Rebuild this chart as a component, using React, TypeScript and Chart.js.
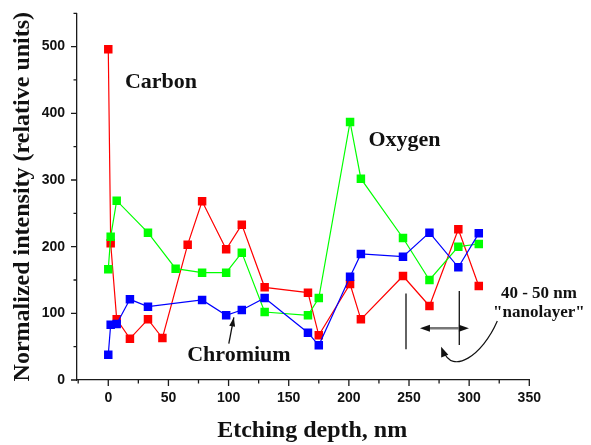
import React, { useEffect, useRef } from 'react';
import { Chart, registerables } from 'chart.js';

Chart.register(...registerables);

// ---- data ----
const chromiumDepth = [0, 2, 7, 18, 33, 78, 98, 111, 130, 166, 175, 201, 210, 245, 267, 291, 308];
const chromiumIntensity = [38, 83, 84, 121, 110, 120, 97, 105, 123, 71, 52, 155, 189, 185, 221, 169, 220];

const oxygenDepth = [0, 2, 7, 33, 56, 78, 98, 111, 130, 166, 175, 201, 210, 245, 267, 291, 308];
const oxygenIntensity = [166, 215, 269, 221, 167, 161, 161, 191, 102, 97, 123, 387, 302, 213, 150, 200, 204];

const carbonDepth = [0, 2, 7, 18, 33, 45, 66, 78, 98, 111, 130, 166, 175, 201, 210, 245, 267, 291, 308];
const carbonIntensity = [496, 205, 91, 62, 91, 63, 203, 268, 196, 233, 139, 131, 67, 144, 91, 156, 111, 226, 141];

const xMajorTicks = [0, 50, 100, 150, 200, 250, 300, 350];
const xMinorTicks = [-25, 25, 75, 125, 175, 225, 275, 325];
const yMajorTicks = [0, 100, 200, 300, 400, 500];
const yMinorTicks = [50, 150, 250, 350, 450, 550];

const xTitle = 'Etching depth, nm';
const yTitle = 'Normalized intensity (relative units)';

// annotation texts, anchored in data coordinates
const labelTexts = ['Carbon', 'Oxygen', 'Chromium', '40 - 50 nm', '"nanolayer"'];
const labelDepths = [43.8, 246.2, 108.6, 358, 358];
const labelIntensities = [437.5, 350.6, 28.5, 122.9, 94.4];
const labelSizes = [22, 22, 22, 17, 17];

const AXIS = '#1a1a1a';
const INK = '#111111';
const SERIF = '"Liberation Serif", "Times New Roman", serif';

function toPoints(xs: number[], ys: number[]) {
  return xs.map((x, i) => ({ x, y: ys[i] }));
}

function arrowHead(ctx: CanvasRenderingContext2D, tx: number, ty: number, fx: number, fy: number, len: number, hw: number) {
  const a = Math.atan2(ty - fy, tx - fx);
  const bx = tx - Math.cos(a) * len;
  const by = ty - Math.sin(a) * len;
  ctx.beginPath();
  ctx.moveTo(tx, ty);
  ctx.lineTo(bx + Math.sin(a) * hw, by - Math.cos(a) * hw);
  ctx.lineTo(bx - Math.sin(a) * hw, by + Math.cos(a) * hw);
  ctx.closePath();
  ctx.fill();
}

const decorPlugin = {
  id: 'decor',
  afterDraw(chart: any) {
    const { ctx, chartArea } = chart;
    const xs = chart.scales.x;
    const ys = chart.scales.y;
    const X = (v: number) => xs.getPixelForValue(v);
    const Y = (v: number) => ys.getPixelForValue(v);
    ctx.save();
    // tick marks
    ctx.strokeStyle = AXIS;
    ctx.lineWidth = 1.3;
    ctx.beginPath();
    xMajorTicks.forEach((v) => { const p = X(v); ctx.moveTo(p, chartArea.bottom); ctx.lineTo(p, chartArea.bottom + 6); });
    xMinorTicks.forEach((v) => { const p = X(v); ctx.moveTo(p, chartArea.bottom); ctx.lineTo(p, chartArea.bottom + 3.5); });
    yMajorTicks.forEach((v) => { const p = Y(v); ctx.moveTo(chartArea.left, p); ctx.lineTo(chartArea.left - 6, p); });
    yMinorTicks.forEach((v) => { const p = Y(v); ctx.moveTo(chartArea.left, p); ctx.lineTo(chartArea.left - 3.5, p); });
    ctx.stroke();

    // x axis title (slightly right of the plot centre, as in the reference)
    ctx.fillStyle = INK;
    ctx.textAlign = 'center';
    ctx.textBaseline = 'alphabetic';
    ctx.font = `bold 24px ${SERIF}`;
    ctx.fillText(xTitle, (chartArea.left + chartArea.right) / 2 + 9, chartArea.bottom + 56.7);

    // annotation labels
    labelTexts.forEach((t, i) => {
      ctx.font = `bold ${labelSizes[i]}px ${SERIF}`;
      ctx.fillText(t, X(labelDepths[i]), Y(labelIntensities[i]));
    });

    ctx.strokeStyle = INK;
    ctx.lineWidth = 1.3;
    // Chromium arrow
    const c0x = X(100.2), c0y = Y(54.6), c1x = X(104.4), c1y = Y(93.9);
    ctx.beginPath(); ctx.moveTo(c0x, c0y); ctx.lineTo(c1x, c1y); ctx.stroke();
    arrowHead(ctx, c1x, c1y, c0x, c0y, 9, 3);

    // nanolayer markers
    ctx.beginPath();
    ctx.moveTo(X(247.5), Y(129.9)); ctx.lineTo(X(247.5), Y(46));
    ctx.moveTo(X(291.8), Y(133.4)); ctx.lineTo(X(291.8), Y(52.4));
    ctx.stroke();
    const dy = Y(77.5), dl = X(259.1), dr = X(299.8);
    ctx.strokeStyle = '#777777';
    ctx.lineWidth = 2.5;
    ctx.beginPath(); ctx.moveTo(dl + 8, dy); ctx.lineTo(dr - 8, dy); ctx.stroke();
    ctx.fillStyle = INK;
    arrowHead(ctx, dl, dy, dr, dy, 10, 3.5);
    arrowHead(ctx, dr, dy, dl, dy, 10, 3.5);

    // curved arrow
    ctx.strokeStyle = INK;
    ctx.lineWidth = 1.2;
    const p0 = [X(323.4), Y(88.4)], p1 = [X(310.9), Y(36)], p2 = [X(285.9), Y(7.5)], p3 = [X(278.6), Y(43.5)];
    const tip = [X(276.7), Y(49.9)];
    ctx.beginPath();
    ctx.moveTo(p0[0], p0[1]);
    ctx.bezierCurveTo(p1[0], p1[1], p2[0], p2[1], p3[0], p3[1]);
    ctx.stroke();
    arrowHead(ctx, tip[0], tip[1], p2[0], p2[1], 10, 3.8);
    ctx.restore();
  },
};

export default function App() {
  const ref = useRef<HTMLCanvasElement | null>(null);
  useEffect(() => {
    if (!ref.current) return;
    const mk = (label: string, xs: number[], ys: number[], color: string) => ({
      label,
      data: toPoints(xs, ys),
      borderColor: color,
      backgroundColor: color,
      borderWidth: 1.2,
      pointStyle: 'rect',
      pointRadius: 6,
      pointBorderWidth: 0,
      pointBackgroundColor: color,
      tension: 0,
      showLine: true,
    });
    const tickFont = { family: '"Liberation Sans", Arial, sans-serif', size: 14, weight: 'bold' as const };
    const titleFont = { family: SERIF, size: 24, weight: 'bold' as const };
    const chart = new Chart(ref.current, {
      type: 'line',
      data: {
        datasets: [
          mk('Chromium', chromiumDepth, chromiumIntensity, '#0000ff'),
          mk('Oxygen', oxygenDepth, oxygenIntensity, '#00ff00'),
          mk('Carbon', carbonDepth, carbonIntensity, '#ff0000'),
        ] as any,
      },
      options: {
        animation: false,
        responsive: false,
        maintainAspectRatio: false,
        layout: { padding: { top: 13.3, right: 61.7, left: 0, bottom: 0 } },
        plugins: { legend: { display: false }, tooltip: { enabled: false } },
        scales: {
          x: {
            type: 'linear',
            min: -26,
            max: 350,
            afterFit: (s: any) => { s.height = 65; s.paddingLeft = 0; s.paddingRight = 0; },
            afterBuildTicks: (s: any) => { s.ticks = xMajorTicks.map((v) => ({ value: v })); },
            grid: { display: false, drawTicks: false },
            border: { display: true, color: AXIS, width: 1.3 },
            ticks: { padding: 9.5, font: tickFont, color: INK, maxRotation: 0, autoSkip: false },
            title: { display: false, text: xTitle },
          },
          y: {
            type: 'linear',
            min: 0,
            max: 550,
            afterFit: (s: any) => { s.width = 77; s.paddingTop = 0; s.paddingBottom = 0; },
            afterBuildTicks: (s: any) => { s.ticks = yMajorTicks.map((v) => ({ value: v })); },
            grid: { display: false, drawTicks: false },
            border: { display: true, color: AXIS, width: 1.3 },
            ticks: { padding: 12, font: tickFont, color: INK, autoSkip: false },
            title: { display: true, text: yTitle, font: titleFont, color: INK, padding: { top: 8.2, bottom: 0 } },
          },
        },
      } as any,
      plugins: [decorPlugin],
    });
    return () => chart.destroy();
  }, []);
  return (
    <div style={{ position: 'fixed', left: 0, top: 0, width: 591, height: 445, background: '#fff' }}>
      <canvas ref={ref} width={591} height={445} style={{ display: 'block', width: 591, height: 445 }} />
    </div>
  );
}
